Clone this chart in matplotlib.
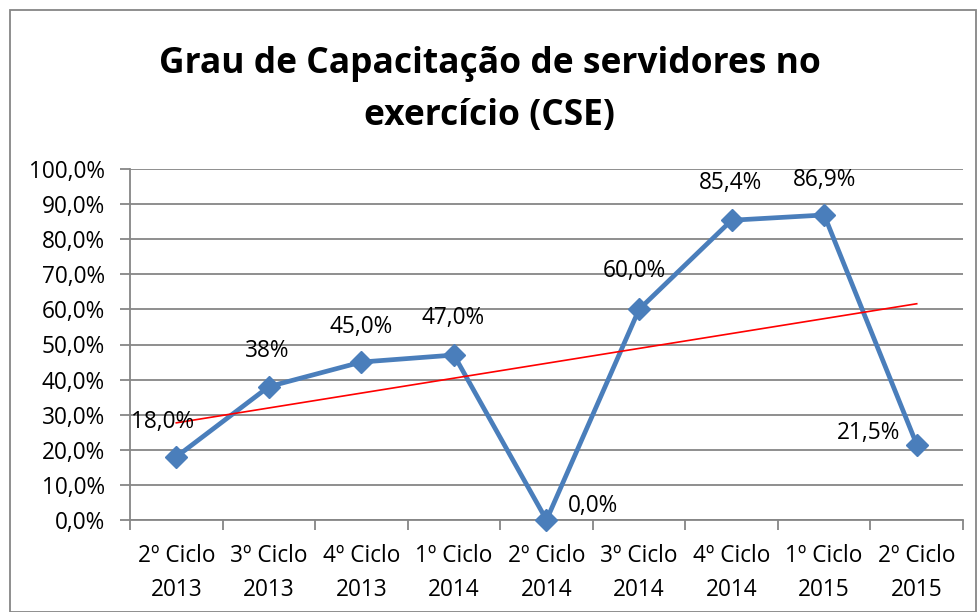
import matplotlib
matplotlib.use("Agg")
import matplotlib.pyplot as plt
import numpy as np
from matplotlib.ticker import FuncFormatter, FixedLocator
from matplotlib.patches import Rectangle

categories = ["2º Ciclo\n2013", "3º Ciclo\n2013", "4º Ciclo\n2013", "1º Ciclo\n2014",
              "2º Ciclo\n2014", "3º Ciclo\n2014", "4º Ciclo\n2014", "1º Ciclo\n2015", "2º Ciclo\n2015"]
values = [18.0, 38.0, 45.0, 47.0, 0.0, 60.0, 85.4, 86.9, 21.5]
labels = ["18,0%", "38%", "45,0%", "47,0%", "0,0%", "60,0%", "85,4%", "86,9%", "21,5%"]
title = "Grau de Capacitação de servidores no\nexercício (CSE)"

plt.rcParams['font.family'] = ['Open Sans', 'DejaVu Sans']

fig = plt.figure(figsize=(9.79, 6.12), dpi=100)
ax = fig.add_axes([130/979, 1-520/612, (963-130)/979, (520-169)/612])

x = np.arange(len(values))
grid_c = "#868686"
fs = 16.3
ax.set_xlim(-0.5, len(values) - 0.5)
ax.set_ylim(0, 100)
ax.set_yticks(np.arange(0, 101, 10))
ax.yaxis.set_major_formatter(FuncFormatter(lambda v, p: f"{v:.1f}%".replace(".", ",")))
ax.grid(axis='y', color=grid_c, linewidth=1.3)
ax.set_axisbelow(True)

ax.set_xticks(x)
ax.set_xticklabels(categories, fontsize=fs, linespacing=1.6)
ax.xaxis.set_minor_locator(FixedLocator(np.arange(-0.5, len(values), 1.0)))
ax.tick_params(axis='x', which='major', length=0, pad=17)
ax.tick_params(axis='x', which='minor', length=7, width=1.3, color=grid_c, direction='out')
ax.tick_params(axis='y', length=7, width=1.3, color=grid_c, labelsize=fs, pad=11)

for s in ['top', 'right']:
    ax.spines[s].set_visible(False)
for s in ['left', 'bottom']:
    ax.spines[s].set_color(grid_c)
    ax.spines[s].set_linewidth(1.3)

ax.plot(x, values, color="#4A7EBB", linewidth=3.4, marker='D', markersize=11,
        markerfacecolor="#4A7EBB", markeredgecolor="#4A7EBB", zorder=3, clip_on=False)

coef = np.polyfit(x, values, 1)
ax.plot(x, np.polyval(coef, x), color="red", linewidth=1.2, zorder=4)

offsets = [(-14, 35), (-2, 36), (0, 35), (-1, 37), (47, 14), (-5, 38), (-1, 37), (0, 35), (-48, 12)]
for xi, v, lab, off in zip(x, values, labels, offsets):
    ax.annotate(lab, (xi, v), xytext=off, textcoords='offset pixels',
                ha='center', va='center', fontsize=fs, zorder=5)

fig.text(0.5, 1-90/612, title, ha='center', va='center', fontsize=25.5,
         fontweight='bold', linespacing=1.6)

fig.patches.append(Rectangle((10/979, 0), 966/979, 1-10/612, transform=fig.transFigure,
                             fill=False, edgecolor=grid_c, linewidth=1.3))

fig.savefig("out.png", dpi=100)
